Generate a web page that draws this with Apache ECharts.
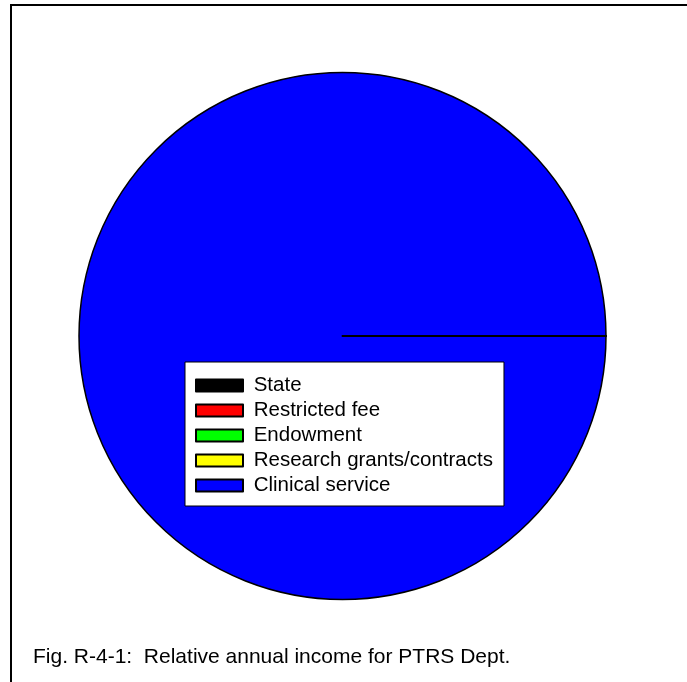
<!DOCTYPE html>
<html>
<head>
<meta charset="utf-8">
<script src="https://cdn.jsdelivr.net/npm/echarts@6/dist/echarts.min.js"></script>
<style>
html,body{margin:0;padding:0;background:#fff;}
#chart{width:687px;height:682px;}
</style>
</head>
<body>
<div id="chart"></div>
<script>
const categories = ["State", "Restricted fee", "Endowment", "Research grants/contracts", "Clinical service"];
const values = [0, 0, 0, 0, 100];
const colors = ["#000000", "#ff0000", "#00ff00", "#ffff00", "#0000ff"];
const caption = "Fig. R-4-1:  Relative annual income for PTRS Dept.";

// Pie draws slices in reverse so the zero-size slice edges are painted on top of the full slice
const pieData = categories.map((c, i) => ({name: c, value: values[i], itemStyle: {color: colors[i]}})).reverse();

const chart = echarts.init(document.getElementById('chart'), null, {renderer: 'canvas'});
const font = "'Liberation Sans', Arial, sans-serif";
chart.setOption({
  animation: false,
  backgroundColor: '#ffffff',
  graphic: [{
    type: 'rect',
    shape: {x: 11, y: 5, width: 1000, height: 1000},
    style: {fill: 'none', stroke: '#000', lineWidth: 2},
    silent: true
  }],
  title: {
    text: caption,
    left: 33,
    top: 647,
    padding: 0,
    textStyle: {fontFamily: font, fontSize: 21, fontWeight: 'normal', color: '#000'}
  },
  legend: {
    orient: 'vertical',
    left: 185,
    top: 362,
    padding: [13, 11, 10, 10],
    backgroundColor: '#ffffff',
    borderColor: '#000',
    borderWidth: 1,
    itemWidth: 47,
    itemHeight: 12,
    itemGap: 4,
    icon: 'rect',
    data: categories,
    formatter: function (n) { return ' ' + n; },
    textStyle: {fontFamily: font, fontSize: 20.5, color: '#000', lineHeight: 20},
    selectedMode: false
  },
  series: [{
    type: 'pie',
    center: [342.5, 336],
    radius: 263.5,
    startAngle: 0,
    clockwise: true,
    label: {show: false},
    labelLine: {show: false},
    emphasis: {disabled: true},
    itemStyle: {borderColor: '#000', borderWidth: 1.5},
    data: pieData
  }]
});
</script>
</body>
</html>
